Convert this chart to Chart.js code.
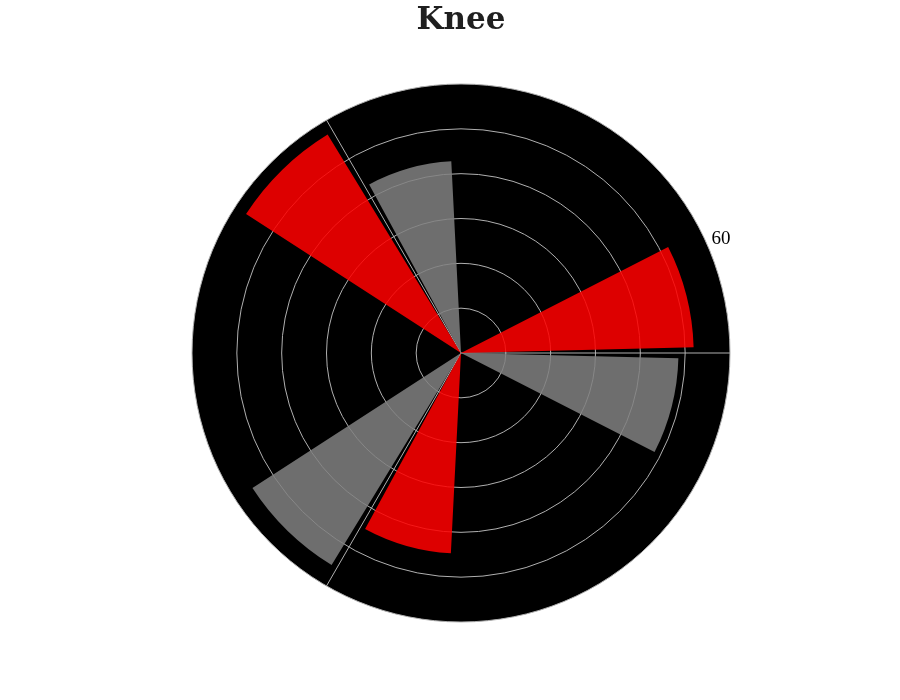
<!DOCTYPE html>
<html><head><meta charset="utf-8">
<script src="https://cdn.jsdelivr.net/npm/chart.js@4.4.0/dist/chart.umd.min.js"></script>
<style>html,body{margin:0;padding:0;background:#fff;} #c{display:block;}</style>
</head><body>
<canvas id="c" width="900" height="700"></canvas>
<script>
// categories in clockwise drawing order (angular position, degrees ccw from east)
const categories = ['0°', '240°', '120°'];
const redValues = [51.9, 44.7, 57.1];
const grayValues = [48.5, 55.4, 42.8];
const radialTicks = [10, 20, 30, 40, 50, 60];
const rMax = 60;

const BAR_W = 25.7, NEAR = 1.4;
const SECTOR = 360 / categories.length;
const FAR = SECTOR - 2 * (BAR_W + NEAR);
const RED = 'rgba(255,0,0,0.865)', GRAY = 'rgba(128,128,128,0.86)', NONE = 'rgba(0,0,0,0)';

const data = [], colors = [], angles = [];
function push(v, c, a) { data.push(v); colors.push(c); angles.push(a); }
categories.forEach((cat, k) => {
  const next = (k + 1) % categories.length;
  push(0, NONE, NEAR);
  push(grayValues[k], GRAY, BAR_W);
  push(0, NONE, FAR);
  push(redValues[next], RED, BAR_W);
  push(0, NONE, NEAR);
});

const rLabelPlugin = {
  id: 'rlabel',
  afterDraw(chart) {
    const s = chart.scales.r, ctx = chart.ctx;
    const lab = String(radialTicks[radialTicks.length - 1]);
    const ang = 23.7 * Math.PI / 180;
    const d = s.getDistanceFromCenterForValue(rMax) + 15;
    ctx.save();
    ctx.font = '19px "Liberation Serif"';
    ctx.fillStyle = '#000';
    ctx.textAlign = 'center';
    ctx.textBaseline = 'middle';
    ctx.fillText(lab, s.xCenter + d * Math.cos(ang), s.yCenter - d * Math.sin(ang));
    ctx.restore();
  }
};

new Chart(document.getElementById('c'), {
  type: 'polarArea',
  data: {
    labels: categories,
    datasets: [{
      data: data,
      backgroundColor: colors,
      angle: angles,
      borderWidth: 0
    }]
  },
  options: {
    responsive: false,
    animation: false,
    layout: { padding: { left: 22, right: 0, top: 0, bottom: 78 } },
    plugins: {
      legend: { display: false },
      tooltip: { enabled: false },
      title: {
        display: true,
        text: 'Knee',
        color: '#1f1f1f',
        font: { family: '"DejaVu Serif"', size: 31, weight: 'bold', lineHeight: 1 },
        padding: { top: 5, bottom: 48 }
      }
    },
    scales: {
      r: {
        min: 0, max: rMax, startAngle: 90,
        backgroundColor: '#000',
        afterBuildTicks: s => { s.ticks = [0].concat(radialTicks).map(v => ({ value: v })); },
        ticks: { display: false },
        grid: { color: '#b0b0b0', lineWidth: 1, circular: true },
        angleLines: { display: true, color: '#b0b0b0', lineWidth: 1 },
        pointLabels: { display: false }
      }
    }
  },
  plugins: [rLabelPlugin]
});
</script>
</body></html>
